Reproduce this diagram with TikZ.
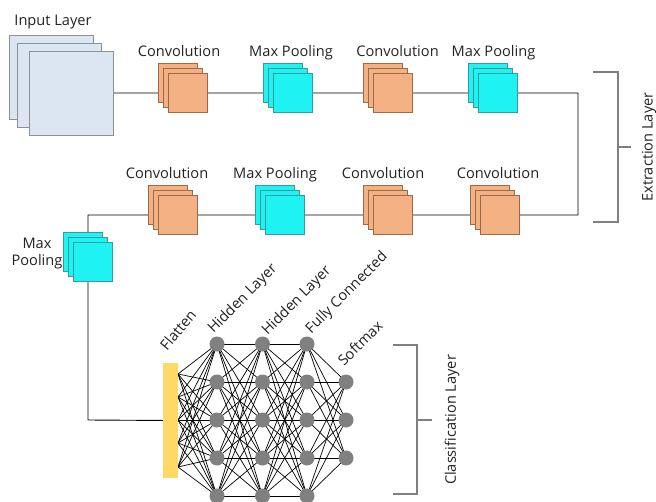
\documentclass[tikz,border=0pt]{standalone}
\usepackage{fontspec}
\setmainfont{Open Sans}
\usetikzlibrary{backgrounds}
\definecolor{convfill}{HTML}{F4B183}
\definecolor{convdraw}{HTML}{9C6A4A}
\definecolor{poolfill}{HTML}{1EF2F2}
\definecolor{pooldraw}{HTML}{3A9A9A}
\definecolor{infill}{HTML}{DCE6F2}
\definecolor{indraw}{HTML}{8C9099}
\definecolor{flatfill}{HTML}{FFD966}
\definecolor{neuron}{HTML}{808080}
\definecolor{brk}{HTML}{7F7F7F}
\definecolor{txt}{HTML}{222222}
\newcommand\layerstack[4]{%
  \node[#4] (#1-b) at (#2-10,#3-10) {};
  \node[#4] (#1-m) at (#2-5,#3-5) {};
  \node[#4] (#1) at (#2,#3) {};
}
\tikzset{
  convbox/.style={draw=convdraw, fill=convfill, line width=0.8pt, minimum size=39pt, inner sep=0pt},
  poolbox/.style={draw=pooldraw, fill=poolfill, line width=0.8pt, minimum size=39pt, inner sep=0pt},
  inbox/.style={draw=indraw, fill=infill, line width=0.8pt, minimum size=84pt, inner sep=0pt},
  lbl/.style={font=\fontsize{14.6}{17}\selectfont, text=txt, inner sep=0pt},
  conn/.style={draw=black, line width=0.9pt},
  edge/.style={draw=black, line width=0.7pt},
  neuronnode/.style={circle, fill=neuron, minimum size=15pt, inner sep=0pt},
  brkline/.style={draw=brk, line width=1.6pt},
}
\begin{document}
\begin{tikzpicture}[x=1pt,y=-1pt]
\useasboundingbox (0,0) rectangle (656,501);
\clip (0,0) rectangle (656,501);
% input layer
\node[inbox] (in-b) at (51.5,77) {};
\node[inbox] (in-m) at (59.5,85) {};
\node[inbox] (in) at (71,93) {};
\node[lbl, anchor=base] (inlbl) at (53,25) {Input Layer};
% top row
\layerstack{c1}{188}{93}{convbox}
\layerstack{p1}{292.5}{93}{poolbox}
\layerstack{c2}{392.5}{93}{convbox}
\layerstack{p2}{498}{93}{poolbox}
\node[lbl, anchor=base] (c1lbl) at (179,56) {Convolution};
\node[lbl, anchor=base] (p1lbl) at (291,56) {Max Pooling};
\node[lbl, anchor=base] (c2lbl) at (397.5,56) {Convolution};
\node[lbl, anchor=base] (p2lbl) at (493.5,56) {Max Pooling};
% bottom row
\layerstack{c4}{177.5}{215}{convbox}
\layerstack{p3}{284.5}{215}{poolbox}
\layerstack{c5}{392.5}{215}{convbox}
\layerstack{c6}{499.5}{215}{convbox}
\node[lbl, anchor=base] (c4lbl) at (167,178) {Convolution};
\node[lbl, anchor=base] (p3lbl) at (275,178) {Max Pooling};
\node[lbl, anchor=base] (c5lbl) at (383,178) {Convolution};
\node[lbl, anchor=base] (c6lbl) at (498,178) {Convolution};
% last pooling
\layerstack{p4}{92.5}{261.5}{poolbox}
\node[lbl, align=center] (p4lbl) at (37,254) {Max\\Pooling};
% corners
\coordinate (r1) at (578,93);
\coordinate (r2) at (578,215);
\coordinate (l1) at (88,215);
\coordinate (l2) at (88,420);
% flatten
\node[fill=flatfill, minimum width=15pt, minimum height=115pt, inner sep=0pt] (flat) at (170.5,420.5) {};
\foreach \i/\y in {1/374,2/397,3/420,4/443,5/467} {\coordinate (f\i) at (178,\y);}
% neurons
\foreach \i/\y in {1/344,2/382,3/420,4/458,5/496} {
  \node[neuronnode] (h1-\i) at (217,\y) {};
  \node[neuronnode] (h2-\i) at (262.5,\y) {};
  \node[neuronnode] (fc-\i) at (307,\y) {};
}
\foreach \i/\y in {1/382,2/420,3/458} {\node[neuronnode] (sm-\i) at (346,\y) {};}
% rotated labels
\node[lbl, rotate=50] (flbl) at (178,330) {Flatten};
\node[lbl, rotate=45] (h1lbl) at (243,299) {Hidden Layer};
\node[lbl, rotate=45] (h2lbl) at (297,301) {Hidden Layer};
\node[lbl, rotate=45] (fclbl) at (347,293) {Fully Connected};
\node[lbl, rotate=45] (smlbl) at (360,343) {Softmax};
% brackets
\coordinate (e1) at (593,72); \coordinate (e2) at (618,72);
\coordinate (e3) at (618,222); \coordinate (e4) at (593,222);
\coordinate (em) at (618,147); \coordinate (et) at (631,147);
\draw[brkline] (e1) -- (e2) -- (e3) -- (e4);
\draw[brkline] (em) -- (et);
\node[lbl, rotate=90] (elbl) at (649,147) {Extraction Layer};
\coordinate (k1) at (393,345); \coordinate (k2) at (417,345);
\coordinate (k3) at (417,494); \coordinate (k4) at (393,494);
\coordinate (km) at (417,420); \coordinate (kt) at (432,420);
\draw[brkline] (k1) -- (k2) -- (k3) -- (k4);
\draw[brkline] (km) -- (kt);
\node[lbl, rotate=90] (klbl) at (452,420) {Classification Layer};
% connectors behind
\begin{pgfonlayer}{background}
\draw[conn] (in) -- (c1) -- (p1) -- (c2) -- (p2) -- (r1) -- (r2) -- (c6) -- (c5) -- (p3) -- (c4) -- (l1) -- (l2) -- (flat);
\foreach \i in {1,...,5} {\foreach \j in {1,...,5} {
  \draw[edge] (f\i) -- (h1-\j.center);
  \draw[edge] (h1-\i.center) -- (h2-\j.center);
  \draw[edge] (h2-\i.center) -- (fc-\j.center);
}}
\foreach \i in {1,...,5} {\foreach \j in {1,2,3} {\draw[edge] (fc-\i.center) -- (sm-\j.center);}}
\end{pgfonlayer}
\end{tikzpicture}
\end{document}
